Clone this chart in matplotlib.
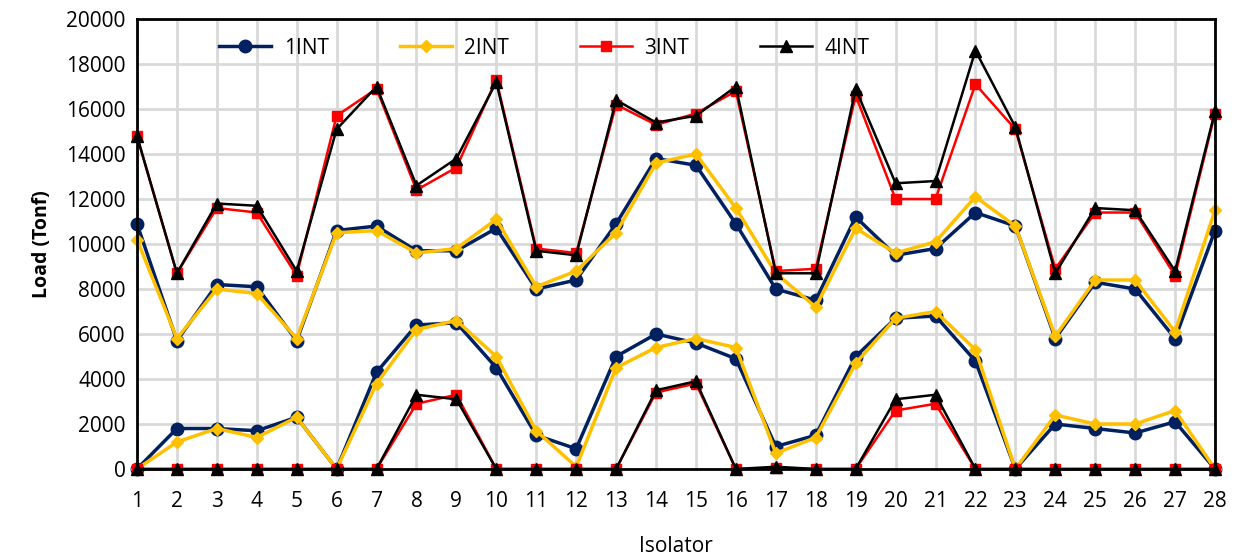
import numpy as np
import matplotlib.pyplot as plt

plt.rcParams['font.family'] = ['Open Sans', 'DejaVu Sans']

isolator = list(range(1, 29))

# upper / lower branch of each series
int1_up = [10900, 5700, 8200, 8100, 5700, 10600, 10800, 9700, 9700, 10700, 8000, 8400, 10900, 13800,
           13500, 10900, 8000, 7500, 11200, 9500, 9800, 11400, 10800, 5800, 8300, 8000, 5800, 10600]
int1_lo = [0, 1800, 1800, 1700, 2300, 0, 4300, 6400, 6500, 4500, 1500, 900, 5000, 6000,
           5600, 4900, 1000, 1500, 5000, 6700, 6800, 4800, 0, 2000, 1800, 1600, 2100, 0]
int2_up = [10200, 5800, 8000, 7800, 5800, 10500, 10600, 9600, 9800, 11100, 8100, 8800, 10500, 13600,
           14000, 11600, 8700, 7200, 10700, 9600, 10100, 12100, 10800, 5900, 8400, 8400, 6100, 11500]
int2_lo = [0, 1200, 1800, 1400, 2300, 0, 3800, 6200, 6600, 5000, 1700, 100, 4500, 5400,
           5800, 5400, 700, 1400, 4700, 6700, 7000, 5300, 0, 2400, 2000, 2000, 2600, 0]
int3_up = [14800, 8700, 11600, 11400, 8600, 15700, 16900, 12400, 13400, 17300, 9800, 9600, 16200, 15300,
           15800, 16800, 8800, 8900, 16600, 12000, 12000, 17100, 15100, 8900, 11400, 11400, 8600, 15800]
int3_lo = [0, 0, 0, 0, 0, 0, 0, 2900, 3300, 0, 0, 0, 0, 3400,
           3800, 0, 50, 0, 0, 2600, 2900, 0, 0, 0, 0, 0, 0, 0]
int4_up = [14800, 8700, 11800, 11700, 8800, 15100, 17000, 12600, 13800, 17200, 9700, 9500, 16400, 15400,
           15700, 17000, 8700, 8700, 16900, 12700, 12800, 18600, 15200, 8700, 11600, 11500, 8800, 15900]
int4_lo = [0, 0, 0, 0, 0, 0, 0, 3300, 3100, 0, 0, 0, 0, 3500,
           3900, 0, 100, 0, 0, 3100, 3300, 0, 0, 0, 0, 0, 0, 0]

series = [
    ('1INT', int1_up, int1_lo, '#002060', 'o', 9),
    ('2INT', int2_up, int2_lo, '#FFC000', 'D', 6),
    ('3INT', int3_up, int3_lo, '#FF0000', 's', 7),
    ('4INT', int4_up, int4_lo, '#000000', '^', 8),
]

fig = plt.figure(figsize=(12.34, 5.6), dpi=100)
ax = fig.add_axes([0.111, 0.1625, 0.8736, 0.8035])

for name, up, lo, col, mk, ms in series:
    lw = 2.5 if name in ('1INT', '2INT') else 1.8
    ax.plot(isolator, up, color=col, marker=mk, markersize=ms, linewidth=lw, label=name, clip_on=False)
    ax.plot(isolator, lo, color=col, marker=mk, markersize=ms, linewidth=lw, clip_on=False)

ax.set_xlim(1, 28)
ax.set_ylim(0, 20000)
ax.set_xticks(isolator)
ax.set_yticks(np.arange(0, 20001, 2000))
ax.grid(True, color='#D9D9D9', linewidth=2)
ax.set_axisbelow(True)
for s in ax.spines.values():
    s.set_color('black')
    s.set_linewidth(2)
ax.tick_params(axis='both', length=0, labelsize=15)
ax.tick_params(axis='x', pad=16)
ax.tick_params(axis='y', pad=8)
ax.set_ylabel('Load (Tonf)', fontsize=14, fontweight='bold', labelpad=10)
fig.text(676 / 1234, 1 - 547 / 560, 'Isolator', fontsize=15, ha='center', va='center')

ax.legend(loc='upper center', bbox_to_anchor=(0.378, 1.0), ncol=4, frameon=False,
          fontsize=15, columnspacing=3.4, handlelength=2.5, handletextpad=0.6)

fig.savefig('out.png', dpi=100)
